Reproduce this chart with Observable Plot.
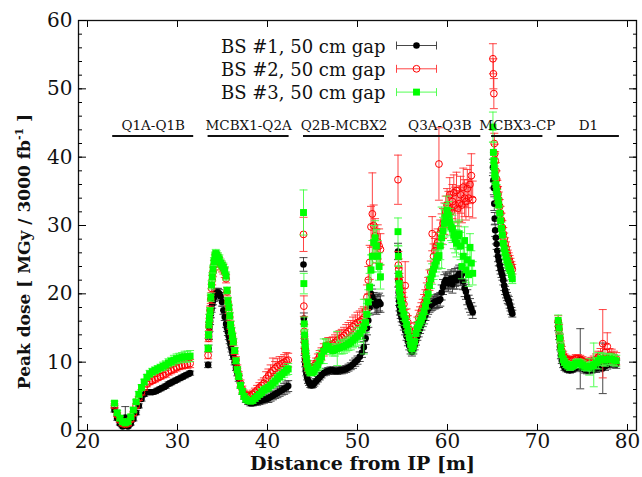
<!DOCTYPE html>
<html><head><meta charset="utf-8">
<script src="https://cdn.jsdelivr.net/npm/d3@7"></script>
<script src="https://cdn.jsdelivr.net/npm/@observablehq/plot@0.6"></script>
<style>
html,body{margin:0;padding:0;background:#fff;}
</style>
</head><body><div id="chart"></div>
<script>
// Distance from IP [m] (shared sampling positions)
const positions = [
 23.0,23.3,23.6,23.9,24.2,24.5,24.8,25.1,25.4,25.7,26.0,26.3,26.6,26.9,27.2,27.5,27.8,28.1,28.4,28.7,29.0,29.3,29.6,29.9,30.2,30.5,30.8,31.1,31.4,
 33.40,33.45,33.50,33.55,33.62,33.70,33.78,33.86,33.95,34.05,34.15,34.25,34.35,34.50,34.65,34.80,34.95,35.10,35.25,35.40,35.50,35.60,35.70,35.80,35.90,36.00,36.10,36.20,36.35,36.50,36.65,36.80,37.00,37.20,37.40,37.60,37.85,38.10,38.35,38.60,38.85,39.10,39.35,39.60,39.85,40.10,40.35,40.60,40.85,41.10,41.35,41.60,41.85,42.10,42.30,
 44.00,44.04,44.08,44.12,44.16,44.20,44.26,44.32,44.40,44.50,44.62,44.75,44.90,45.05,45.20,45.40,45.60,45.80,46.00,46.25,46.50,46.75,47.00,47.25,47.50,47.75,48.00,48.25,48.50,48.75,49.00,49.25,49.50,49.75,50.00,50.25,50.50,50.70,50.90,51.05,51.20,51.35,51.50,51.65,51.80,51.95,52.10,52.25,52.40,52.55,
 54.50,54.54,54.58,54.62,54.66,54.72,54.80,54.90,55.00,55.15,55.30,55.45,55.60,55.75,55.90,56.05,56.20,56.35,56.50,56.65,56.80,56.95,57.10,57.25,57.40,57.55,57.70,57.85,58.00,58.15,58.30,58.45,58.60,58.75,58.90,59.05,59.20,59.35,59.50,59.65,59.80,59.95,60.10,60.25,60.40,60.55,60.70,60.85,61.00,61.15,61.30,61.45,61.60,61.75,61.90,62.05,62.20,62.35,62.50,62.65,62.80,
 65.05,65.10,65.15,65.20,65.25,65.30,65.38,65.46,65.54,65.62,65.70,65.80,65.90,66.00,66.10,66.20,66.30,66.40,66.50,66.60,66.70,66.80,66.90,67.00,67.10,67.20,
 72.30,72.40,72.50,72.60,72.70,72.85,73.00,73.20,73.40,73.60,73.80,74.00,74.25,74.50,74.75,75.00,75.25,75.50,75.75,76.00,76.25,76.50,76.75,77.00,77.25,77.50,77.75,78.00,78.25,78.50,78.75
];

// BS #1 peak dose and error
const bs1Dose = [
 3.0,1.8,1.0,0.6,1.9,0.6,1.0,1.7,2.6,3.6,4.6,5.3,5.6,5.6,5.6,5.7,5.9,6.1,6.3,6.5,6.8,7.0,7.2,7.4,7.6,7.8,8.0,8.2,8.4,
 9.6,12.0,13.8,15.0,16.0,17.0,17.8,18.5,19.0,19.5,19.8,20.0,20.2,20.2,20.0,19.6,18.8,17.6,16.6,15.6,15.0,14.4,13.8,13.2,12.6,12.0,11.4,10.8,10.0,9.2,8.4,7.6,6.6,5.7,5.0,4.5,4.2,4.0,4.0,4.1,4.2,4.3,4.4,4.5,4.6,4.7,4.9,5.1,5.3,5.5,5.7,5.9,6.1,6.3,6.5,
 24.3,16.4,13.5,11.5,10.5,9.7,9.0,8.4,7.8,7.3,7.0,6.7,6.6,6.7,6.9,7.2,7.5,7.8,8.1,8.4,8.6,8.7,8.8,8.8,8.7,8.7,8.8,8.8,8.9,9.0,9.2,9.4,9.7,10.0,10.3,10.8,11.4,12.2,13.5,15.0,16.1,18.0,20.0,19.5,19.0,18.5,18.3,18.6,18.8,18.5,
 26.2,22.0,20.2,19.0,18.2,17.5,17.0,16.5,16.0,15.3,14.6,13.8,13.0,12.4,11.8,11.5,11.8,12.4,13.1,13.8,14.4,14.9,15.4,15.9,16.4,16.9,17.4,17.8,18.2,18.4,18.5,18.7,18.8,18.9,19.0,19.0,19.2,20.2,21.0,21.6,22.0,21.8,21.5,22.0,22.2,21.4,22.0,22.4,22.0,22.6,22.9,22.5,22.9,21.8,20.8,20.3,19.5,18.8,18.3,17.8,17.3,
 38.5,36.6,35.5,33.2,31.0,29.3,28.2,27.3,26.3,25.5,24.9,24.2,23.6,23.1,22.7,22.0,21.2,20.5,20.0,19.6,19.2,19.0,18.5,18.0,17.5,17.1,
 15.2,13.8,12.3,11.0,10.2,9.6,9.2,9.0,8.9,8.8,8.9,9.0,9.2,9.3,10.5,9.1,8.9,8.8,8.8,8.9,9.0,9.1,9.2,9.3,9.1,9.4,9.6,9.8,9.9,9.8,9.7
];
const bs1Err = [
 0.3,0.3,0.2,0.2,1.6,0.2,0.2,0.3,0.3,0.3,0.3,0.3,0.3,0.3,0.3,0.3,0.3,0.3,0.3,0.3,0.3,0.3,0.3,0.3,0.3,0.3,0.3,0.3,0.3,
 0.4,0.5,0.5,0.5,0.5,0.5,0.5,0.6,0.6,0.6,0.6,0.6,0.6,0.6,0.6,0.6,0.6,0.6,0.5,0.5,0.5,0.5,0.5,0.5,0.5,0.5,0.4,0.4,0.4,0.4,0.4,0.4,0.4,0.4,0.4,0.4,0.4,0.4,0.4,0.4,0.5,0.5,0.5,0.5,0.5,0.6,0.6,0.6,0.6,0.7,0.7,0.7,0.8,0.8,0.8,
 1.0,0.8,0.6,0.5,0.5,0.4,0.4,0.4,0.4,0.4,0.4,0.4,0.4,0.4,0.4,0.4,0.4,0.4,0.4,0.4,0.5,0.5,0.5,0.5,0.5,0.5,0.5,0.5,0.5,0.5,0.5,0.5,0.6,0.6,0.6,0.7,0.7,0.8,0.9,1.0,1.0,1.1,1.2,1.2,1.2,1.3,1.3,1.3,1.3,1.2,
 1.2,1.0,0.8,0.7,0.7,0.6,0.6,0.6,0.6,0.6,0.6,0.6,0.6,0.6,0.6,0.6,0.6,0.6,0.6,0.6,0.7,0.7,0.7,0.7,0.8,0.8,0.8,0.8,0.9,0.9,0.9,0.9,1.0,1.0,1.0,1.0,1.0,1.1,1.1,1.2,1.2,1.2,1.2,1.2,1.3,1.3,1.3,1.3,1.3,1.3,1.3,1.3,1.3,1.2,1.2,1.1,1.1,1.0,1.0,0.9,0.9,
 1.2,1.1,1.0,1.0,0.9,0.9,0.9,0.8,0.8,0.8,0.8,0.8,0.7,0.7,0.7,0.7,0.7,0.6,0.6,0.6,0.6,0.6,0.6,0.5,0.5,0.5,
 0.6,0.5,0.5,0.5,0.4,0.4,0.4,0.4,0.4,0.4,0.4,0.4,0.5,0.5,4.4,0.5,0.5,0.5,0.5,0.5,0.5,0.6,0.6,0.6,3.7,0.6,0.6,0.6,0.6,0.6,0.6
];

// BS #2 peak dose and error
const bs2Dose = [
 3.6,2.3,1.5,1.0,0.9,1.0,1.6,2.5,3.6,4.7,5.6,6.3,6.8,7.1,7.3,7.5,7.7,7.9,8.1,8.3,8.6,8.8,9.0,9.2,9.4,9.5,9.6,9.7,9.8,
 11.0,13.5,15.2,16.4,17.6,19.2,20.8,22.0,23.2,24.2,25.0,25.4,25.3,25.0,24.6,24.2,23.9,23.6,23.1,22.2,20.3,18.8,17.7,16.6,15.4,14.5,13.7,12.9,11.6,10.3,9.1,8.1,6.9,6.0,5.4,5.1,5.0,5.1,5.3,5.6,5.9,6.3,6.6,6.9,7.6,8.0,8.4,8.8,9.1,9.4,9.6,9.8,10.0,10.2,10.3,
 28.7,18.2,14.5,13.0,12.0,11.3,10.7,10.1,9.6,9.2,9.0,8.9,9.0,9.2,9.5,9.9,10.4,10.9,11.2,11.8,12.4,12.6,12.6,12.7,12.9,13.2,13.4,13.6,13.9,14.2,14.5,14.8,15.2,15.5,15.8,16.0,16.2,16.5,17.5,19.5,22.0,24.6,29.8,31.7,30.0,28.5,27.0,27.6,27.0,26.5,
 36.7,24.2,23.6,22.5,21.8,21.2,20.5,19.8,19.2,18.5,21.2,16.8,15.8,14.8,13.8,13.0,13.3,14.0,14.8,15.6,16.5,17.0,17.5,18.0,18.6,19.3,20.2,21.0,22.0,23.2,28.8,25.5,26.3,27.0,27.5,39.0,28.8,29.5,30.3,31.0,32.0,33.0,32.5,34.5,32.0,33.5,34.8,33.0,35.1,32.5,33.2,34.5,33.0,35.6,34.0,33.5,35.4,34.0,36.0,37.3,33.8,
 54.4,52.2,49.3,42.0,40.5,39.5,38.0,36.8,35.5,34.6,33.8,32.8,31.8,30.8,29.7,28.8,28.0,27.3,26.7,26.1,25.6,25.2,24.8,24.4,24.0,23.6,
 16.0,14.8,13.5,12.5,11.7,11.1,10.7,10.5,10.3,10.2,10.3,10.4,10.5,10.5,10.4,10.2,10.0,9.9,9.9,10.0,10.2,10.4,10.7,11.0,12.7,11.4,12.3,11.0,10.9,10.7,10.5
];
const bs2Err = [
 0.3,0.3,0.3,0.3,0.3,0.3,0.3,0.3,0.3,0.3,0.4,0.4,0.4,0.4,0.4,0.4,0.4,0.4,0.4,0.5,0.5,0.5,0.5,0.5,0.5,0.5,0.5,0.6,0.6,
 0.5,0.5,0.6,0.6,0.6,0.6,0.6,0.7,0.7,0.7,0.7,0.7,0.7,0.7,0.7,0.7,0.7,0.7,0.7,0.6,0.6,0.6,0.6,0.6,0.6,0.5,0.5,0.5,0.5,0.5,0.5,0.5,0.5,0.5,0.5,0.5,0.5,0.6,0.6,0.6,0.7,0.7,0.8,0.8,1.0,1.0,1.2,1.8,1.0,1.1,1.2,1.0,1.1,1.2,1.0,
 2.5,1.5,1.0,0.8,0.7,0.6,0.6,0.6,0.6,0.6,0.6,0.6,0.6,0.6,0.7,0.7,0.8,0.8,0.9,0.9,1.0,1.0,1.0,1.0,1.1,1.1,1.2,1.2,1.2,1.3,1.3,1.3,1.4,1.4,1.5,1.5,1.6,1.6,1.7,1.8,2.0,2.5,3.0,6.0,3.0,2.5,2.5,2.5,2.5,2.3,
 3.6,2.0,1.5,1.3,1.2,1.2,1.1,1.1,1.0,1.0,3.5,1.0,1.0,0.9,0.9,0.9,0.9,1.0,1.0,1.0,1.1,1.1,1.2,1.2,1.3,1.3,1.4,1.4,1.5,1.6,2.5,1.8,1.8,2.0,2.0,5.3,2.0,2.2,2.2,2.3,2.3,2.4,2.5,2.5,2.5,2.5,2.6,2.6,2.7,2.6,2.6,2.7,2.6,2.8,2.7,2.7,2.8,2.7,2.8,3.2,2.7,
 2.2,2.2,2.2,1.5,1.4,1.3,1.2,1.2,1.1,1.1,1.1,1.0,1.0,1.0,1.0,0.9,0.9,0.9,0.9,0.8,0.8,0.8,0.8,0.8,0.7,0.7,
 0.8,0.7,0.6,0.6,0.6,0.5,0.5,0.5,0.5,0.5,0.5,0.5,0.6,0.6,0.6,0.6,0.6,0.6,0.6,0.7,0.7,0.8,0.9,1.0,5.0,1.2,2.0,1.0,1.0,0.9,0.9
];

// BS #3 peak dose and error
const bs3Dose = [
 4.0,2.6,1.8,1.3,1.1,1.3,2.0,3.0,4.2,5.3,6.3,7.1,7.8,8.3,8.6,8.8,9.0,9.2,9.4,9.6,9.9,10.1,10.3,10.5,10.6,10.7,10.8,10.8,10.9,
 12.0,14.0,15.5,16.5,17.5,19.5,21.3,22.5,23.6,24.7,25.5,25.9,25.7,25.4,25.1,24.5,24.2,23.9,23.4,22.6,20.5,19.0,18.0,16.8,15.5,14.6,13.8,13.0,11.7,10.2,8.9,7.9,6.6,5.7,5.0,4.6,4.4,4.3,4.4,4.7,5.0,5.3,5.6,5.9,6.1,6.3,6.6,6.9,7.2,7.6,7.9,8.2,8.5,8.8,9.0,
 31.9,21.5,15.6,14.0,12.8,12.0,11.2,10.5,9.8,9.2,8.8,8.5,8.5,8.6,8.8,9.2,9.6,10.2,10.8,11.6,12.4,12.3,11.9,11.7,11.8,12.0,12.1,12.2,12.3,12.5,12.7,12.9,13.2,13.5,13.8,14.2,14.7,15.2,15.8,17.0,18.8,21.0,23.5,25.5,27.5,28.2,27.0,25.5,24.0,22.5,
 29.1,25.5,22.9,21.5,20.5,19.6,19.0,18.4,17.8,17.0,16.3,15.5,14.6,13.6,12.6,12.0,12.3,13.0,14.2,15.0,15.5,15.9,16.3,16.8,17.4,18.2,19.0,20.0,21.2,22.2,22.9,23.6,24.2,24.8,25.3,25.6,27.0,28.2,29.2,30.3,31.2,32.2,31.5,30.5,29.8,29.5,28.6,28.0,27.4,28.5,28.8,27.0,24.0,25.5,27.8,23.5,25.0,22.8,26.8,24.5,23.0,
 44.4,40.7,39.5,38.5,37.5,37.1,36.0,35.0,34.3,33.6,33.0,31.8,30.7,29.6,28.6,27.4,26.6,26.0,25.4,24.9,24.5,24.0,23.7,23.4,22.8,22.2,
 16.1,15.0,13.5,12.2,11.2,10.4,10.0,9.7,9.5,9.3,9.4,9.6,9.8,9.9,9.8,9.6,9.4,9.3,9.3,9.4,9.6,9.9,10.2,10.5,10.4,10.3,10.4,10.5,10.4,10.3,10.2
];
const bs3Err = [
 0.3,0.3,0.3,0.3,0.3,0.3,0.3,0.3,0.3,0.4,0.4,0.4,0.4,0.5,0.5,0.5,0.5,0.5,0.6,0.6,0.6,0.6,0.7,0.7,0.7,0.7,0.8,0.8,0.8,
 0.5,0.5,0.5,0.5,0.5,0.6,0.6,0.6,0.6,0.6,0.6,0.6,0.6,0.6,0.6,0.6,0.6,0.6,0.6,0.6,0.5,0.5,0.5,0.5,0.5,0.5,0.5,0.5,0.4,0.4,0.4,0.4,0.4,0.4,0.4,0.4,0.4,0.4,0.4,0.4,0.4,0.4,0.5,0.5,0.5,0.5,0.5,0.6,0.6,0.6,0.6,0.7,0.7,0.7,0.8,
 3.3,1.5,1.0,0.8,0.6,0.6,0.5,0.5,0.5,0.5,0.5,0.5,0.5,0.5,0.6,0.6,0.8,1.2,1.0,1.8,1.0,0.8,0.8,0.8,0.9,2.5,0.9,1.0,1.0,1.0,1.0,1.1,1.1,1.2,1.3,1.3,1.4,4.0,1.5,1.6,1.8,2.0,2.2,2.3,2.5,2.5,2.4,2.3,2.0,1.8,
 2.0,1.5,1.2,1.0,1.0,1.0,0.9,0.9,0.9,0.9,0.9,0.9,0.8,0.8,0.8,0.8,0.8,0.8,0.9,0.9,1.0,1.0,1.0,1.1,1.1,1.2,1.2,1.3,1.3,1.4,1.5,1.5,1.6,1.6,1.7,1.8,2.0,4.5,2.0,2.0,2.0,2.1,2.0,2.0,2.0,2.0,2.0,2.0,2.0,2.0,2.0,2.0,1.8,1.8,2.0,1.8,1.8,1.7,2.0,1.8,1.7,
 2.2,1.5,1.2,1.2,1.2,1.1,1.1,1.0,1.0,1.0,1.0,1.0,0.9,0.9,0.9,0.9,0.8,0.8,0.8,0.8,0.8,0.8,0.7,0.7,0.7,0.7,
 0.8,0.7,0.6,0.6,0.5,0.5,0.5,0.5,0.5,0.5,0.5,0.5,0.6,0.6,0.6,0.6,0.6,0.6,1.2,0.7,3.2,0.8,1.2,0.9,0.9,0.9,0.8,0.8,0.8,0.8,0.8
];

const seriesNames = ["BS #1, 50 cm gap", "BS #2, 50 cm gap", "BS #3, 50 cm gap"];
const magnetNames = ["Q1A-Q1B", "MCBX1-Q2A", "Q2B-MCBX2", "Q3A-Q3B", "MCBX3-CP", "D1"];
const magnetStart = [22.8, 33.4, 44.0, 54.6, 64.9, 72.2];
const magnetEnd   = [31.8, 42.4, 53.0, 63.7, 70.6, 79.1];
const xTicks = [20, 30, 40, 50, 60, 70, 80];
const yTicks = [0, 10, 20, 30, 40, 50, 60];
const yMinorTicks = d3.range(0, 61, 2);
const xTitle = "Distance from IP [m]";
const yTitle = "Peak dose [ MGy / 3000 fb-1 ]";

const magnetLevel = 43.1;

const toRows = (dose, err) => positions.map((x, i) => ({x, y: dose[i], e: err[i]}));
const styles = [
  {dose: bs1Dose, err: bs1Err, bar: "#333", symbol: "circle", fill: "#000", stroke: "none", r: 3.3},
  {dose: bs2Dose, err: bs2Err, bar: "#ff3030", symbol: "circle", fill: "none", stroke: "#ff0000", r: 3.4},
  {dose: bs3Dose, err: bs3Err, bar: "#40ff40", symbol: "square", fill: "#00ff00", stroke: "none", r: 3.9}
];

const capSymbol = {draw(ctx) { ctx.moveTo(-4, 0); ctx.lineTo(4, 0); }};
const legendBar = {draw(ctx) {
  ctx.moveTo(-20, 0); ctx.lineTo(20, 0);
  ctx.moveTo(-20, -4); ctx.lineTo(-20, 4);
  ctx.moveTo(20, -4); ctx.lineTo(20, 4);
}};

const marks = [];
styles.forEach((s, k) => {
  const data = toRows(s.dose, s.err);
  marks.push(
    Plot.ruleX(data, {x: "x", y1: d => d.y - d.e, y2: d => d.y + d.e, stroke: s.bar, strokeWidth: 0.9}),
    Plot.dot(data, {x: "x", y: d => d.y + d.e, symbol: capSymbol, fill: "none", stroke: s.bar, strokeWidth: 0.9}),
    Plot.dot(data, {x: "x", y: d => d.y - d.e, symbol: capSymbol, fill: "none", stroke: s.bar, strokeWidth: 0.9}),
    Plot.dot(data, {x: "x", y: "y", symbol: s.symbol, r: s.r, fill: s.fill, stroke: s.stroke, strokeWidth: 1})
  );
  // legend row
  marks.push(
    Plot.text([seriesNames[k]], {frameAnchor: "top-left", dx: 307, dy: 32 + 23 * k, text: d => d, textAnchor: "end", lineAnchor: "bottom", fontSize: 18, fill: "#111"}),
    Plot.dot([0], {frameAnchor: "top-left", dx: 338, dy: 25 + 23.3 * k, symbol: legendBar, fill: "none", stroke: s.bar, strokeWidth: 0.9}),
    Plot.dot([0], {frameAnchor: "top-left", dx: 338, dy: 25 + 23.3 * k, symbol: s.symbol, r: s.r, fill: s.fill, stroke: s.stroke, strokeWidth: 1})
  );
});

const magnets = magnetNames.map((name, i) => ({name, start: magnetStart[i], end: magnetEnd[i]}));
marks.push(
  Plot.ruleY(magnets, {y: () => magnetLevel, x1: "start", x2: "end", stroke: "#111", strokeWidth: 2}),
  Plot.text(magnets, {x: d => (d.start + d.end) / 2, y: () => magnetLevel, text: "name", dy: -6, lineAnchor: "bottom", fontSize: 13.5, fill: "#111"}),
  Plot.frame({stroke: "#111", strokeWidth: 1.3}),
  Plot.axisX(xTicks, {anchor: "bottom", tickSize: -6, tickPadding: 9, fontSize: 20, label: null, fill: "#111"}),
  Plot.axisX(xTicks, {anchor: "top", tickSize: -6, tickFormat: () => "", label: null}),
  Plot.axisY(yTicks, {anchor: "left", tickSize: -8, tickPadding: 14, fontSize: 20, label: null, fill: "#111"}),
  Plot.axisY(yMinorTicks, {anchor: "left", tickSize: -4, tickFormat: () => "", label: null}),
  Plot.axisY(yTicks, {anchor: "right", tickSize: -8, tickFormat: () => "", label: null}),
  Plot.axisY(yMinorTicks, {anchor: "right", tickSize: -4, tickFormat: () => "", label: null}),
  Plot.text([xTitle], {frameAnchor: "bottom", dx: 5, dy: 39, text: d => d, textAnchor: "middle", lineAnchor: "bottom", fontSize: 19, fontWeight: "bold", fill: "#111"}),
  Plot.text([yTitle], {frameAnchor: "left", dx: -54, dy: 26, rotate: -90, text: d => d, textAnchor: "middle", lineAnchor: "middle", fontSize: 17, fontWeight: "bold", fill: "#111"})
);

const svg = Plot.plot({
  width: 642, height: 477,
  marginLeft: 78, marginRight: 6, marginTop: 20, marginBottom: 47,
  x: {domain: [19, 81]},
  y: {domain: [0, 60]},
  style: {fontFamily: '"DejaVu Serif", serif', fontSize: "18px", background: "#fff", overflow: "visible"},
  marks
});

d3.select(svg).selectAll("text").filter(function() { return this.textContent === yTitle; }).each(function() {
  const t = d3.select(this);
  t.text(null);
  t.append("tspan").text("Peak dose [ MGy / 3000 fb");
  t.append("tspan").attr("dy", "-7").attr("font-size", "11px").text("-1");
  t.append("tspan").attr("dy", "7").text(" ]");
});

document.getElementById("chart").appendChild(svg);
</script>
</body></html>
